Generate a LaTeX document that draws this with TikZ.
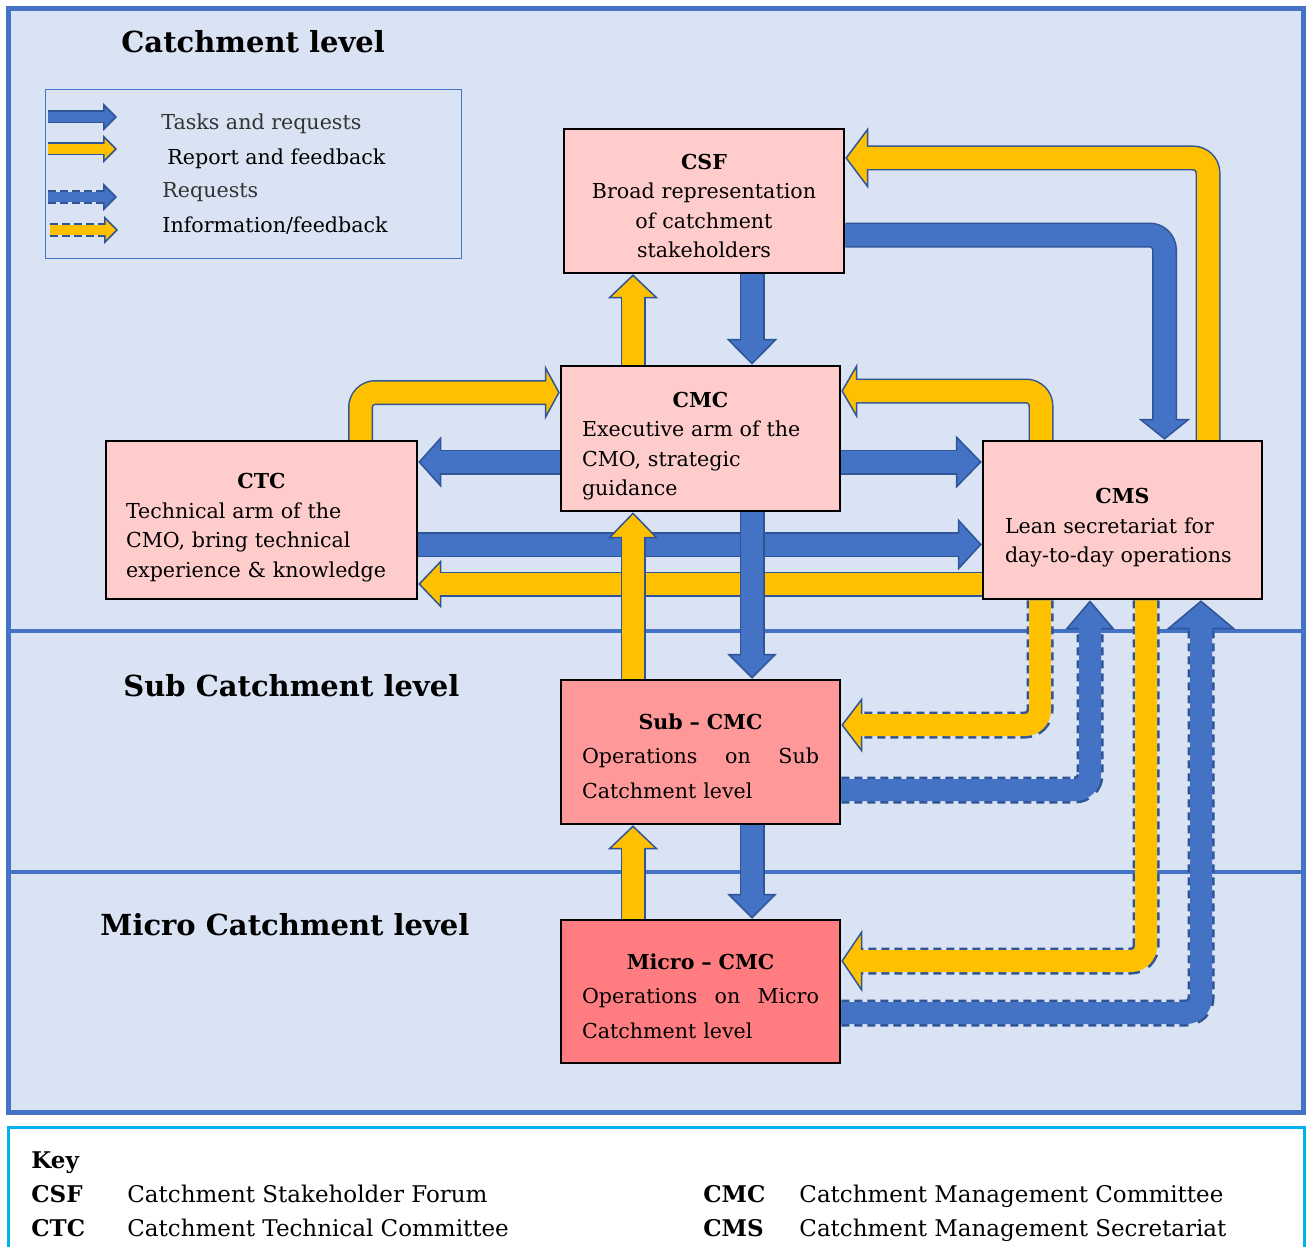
\documentclass[tikz,border=0pt]{standalone}
\usepackage{fontspec}
\setmainfont{DejaVu Serif}
\usetikzlibrary{arrows.meta}

\definecolor{panelbg}{HTML}{DAE3F3}
\definecolor{panelline}{HTML}{4472C4}
\definecolor{arrblue}{HTML}{4472C4}
\definecolor{arryellow}{HTML}{FFC000}
\definecolor{arredge}{HTML}{2F5597}
\definecolor{boxpink}{HTML}{FFCCCC}
\definecolor{boxsub}{HTML}{FF9999}
\definecolor{boxmicro}{HTML}{FF7C80}
\definecolor{keyline}{HTML}{00B0F0}

\newcommand{\boxfont}{\fontsize{10.3}{14.75}\selectfont}
\newcommand{\levelfont}{\fontsize{10.3}{17.25}\selectfont}
\newcommand{\titlefont}{\fontsize{14.5}{17}\selectfont\bfseries}
% invisible strut on the heading line, pushes the box text down
\newcommand{\headgap}[1]{\rule{0pt}{#1}}

\begin{document}
\begin{tikzpicture}[
    x=0.5pt, y=-0.5pt,
    box/.style={draw=black, line width=1.25pt, fill=#1, inner ysep=0pt, font=\boxfont},
    arr/.style n args={4}{draw=arredge, line width=#2+1.5pt, rounded corners=7.5pt,
      -{Triangle[length=#3, width=#4, line width=0.75pt, fill=#1]},
      postaction={draw=#1, solid, -, line width=#2, shorten >=#3-1.2pt}},
    task/.style 2 args={arr={arrblue}{11pt}{#1}{#2}},
    report/.style 2 args={arr={arryellow}{11pt}{#1}{#2}},
    request/.style 2 args={task={#1}{#2}, line width=13.5pt, dash pattern=on 4pt off 2.5pt},
    info/.style 2 args={report={#1}{#2}, line width=13.5pt, dash pattern=on 4pt off 2.5pt},
    level/.style={anchor=base west, inner sep=0pt, font=\titlefont},
    legtext/.style={anchor=base west, inner sep=0pt, font=\boxfont},
    keytext/.style={anchor=base west, inner sep=0pt, font=\fontsize{11.5}{13}\selectfont},
  ]
  \useasboundingbox (0,0) rectangle (1307,1247);

  % ---- panels and level lines ----
  \draw[line width=2.5pt, panelline, fill=panelbg] (8.5,8.5) rectangle (1303.5,1112);
  \draw[line width=2pt, panelline] (8.5,631) -- (1303.5,631);
  \draw[line width=2pt, panelline] (8.5,872) -- (1303.5,872);
  \draw[line width=1.5pt, keyline, fill=white] (8.5,1127) rectangle (1304,1262);

  \node[level] (lvlcat) at (121,53) {Catchment level};
  \node[level] (lvlsub) at (123,696) {Sub Catchment level};
  \node[level] (lvlmic) at (100,935) {Micro Catchment level};

  % ---- legend ----
  \draw[line width=0.5pt, panelline] (45,90) rectangle (461,258);
  \coordinate (lg1) at (48,117);  \coordinate (lg1e) at (117,117);
  \coordinate (lg2) at (48,149);  \coordinate (lg2e) at (117,149);
  \coordinate (lg3) at (48,197);  \coordinate (lg3e) at (117,197);
  \coordinate (lg4) at (50,230);  \coordinate (lg4e) at (118,230);
  \draw[arr={arrblue}{5pt}{7pt}{14pt}] (lg1) -- (lg1e);
  \draw[arr={arryellow}{5pt}{7pt}{14pt}] (lg2) -- (lg2e);
  \draw[arr={arrblue}{5pt}{7pt}{14pt}, line width=7pt, dash pattern=on 4pt off 2pt] (lg3) -- (lg3e);
  \draw[arr={arryellow}{5pt}{7pt}{14pt}, line width=7pt, dash pattern=on 4pt off 2pt] (lg4) -- (lg4e);
  \node[legtext, text=black!80] (lgt1) at (161,130) {Tasks and requests};
  \node[legtext] (lgt2) at (167,164) {Report and feedback};
  \node[legtext, text=black!80] (lgt3) at (162,198) {Requests};
  \node[legtext] (lgt4) at (162,233) {Information/feedback};

  % ---- committees ----
  \node[box=boxpink, minimum width=140pt, minimum height=72pt, inner xsep=5pt,
        text width=130pt, align=center] (csf) at (704,201)
    {\headgap{12.5pt}\textbf{CSF}\\Broad representation\\of catchment\\stakeholders};
  \node[box=boxpink, minimum width=139.5pt, minimum height=72.5pt, inner xsep=10.5pt,
        text width=118.5pt, align=left] (cmc) at (700.5,438.5)
    {{\centering\headgap{15.5pt}\textbf{CMC}\par}Executive arm of the\\CMO, strategic\\guidance};
  \node[box=boxpink, minimum width=155.5pt, minimum height=79pt, inner xsep=10pt,
        text width=135.5pt, align=left] (ctc) at (261.5,520)
    {{\centering\headgap{15.5pt}\textbf{CTC}\par}Technical arm of the\\CMO, bring technical\\experience \& knowledge};
  \node[box=boxpink, minimum width=139.5pt, minimum height=79pt, inner xsep=11pt,
        text width=117.5pt, align=left] (cms) at (1122.5,520)
    {{\centering\headgap{15.5pt}\textbf{CMS}\par}Lean secretariat for\\day-to-day operations};
  \node[box=boxsub, minimum width=139.5pt, minimum height=72pt, inner xsep=10.5pt,
        text width=118.5pt, align=left, font=\levelfont] (sub) at (700.5,752)
    {{\centering\headgap{12pt}\textbf{Sub – CMC}\par}Operations\hfill on\hfill Sub\\Catchment level};
  \node[box=boxmicro, minimum width=139.5pt, minimum height=71.5pt, inner xsep=10.5pt,
        text width=118.5pt, align=left, font=\levelfont] (micro) at (700.5,991.5)
    {{\centering\headgap{12.5pt}\textbf{Micro – CMC}\par}Operations\hfill on\hfill Micro\\Catchment level};

  % ---- bend points ----
  \coordinate (colY) at (633,0);
  \coordinate (colB) at (752,0);
  \coordinate (rowT) at (0,462);
  \coordinate (rowL) at (0,544.5);
  \coordinate (rowM) at (0,584);
  \coordinate (bCTC) at (360.5,392.5);
  \coordinate (bCMS) at (1041,391);
  \coordinate (bCSFb) at (1164.5,235);
  \coordinate (bCSFy) at (1208,158);
  \coordinate (bSUBy) at (1040,725);
  \coordinate (bSUBb) at (1090,790);
  \coordinate (bMICy) at (1146,961);
  \coordinate (bMICb) at (1201,1013);

  % ---- catchment level flows ----
  \draw[task={12pt}{26pt}] (ctc.east |- rowL) -- (cms.west |- rowL);
  \draw[report={11.5pt}{24pt}] (cms.west |- rowM) -- (ctc.east |- rowM);
  \draw[task={11.5pt}{25.5pt}] (cmc.west |- rowT) -- (ctc.east |- rowT);
  \draw[task={13pt}{26.5pt}] (cmc.east |- rowT) -- (cms.west |- rowT);
  \draw[report={7.5pt}{27.5pt}] (bCTC |- ctc.north) |- (cmc.west |- bCTC);
  \draw[report={8pt}{27.5pt}] (bCMS |- cms.north) |- (cmc.east |- bCMS);
  \draw[task={10.5pt}{26pt}] (csf.east |- bCSFb) -| (bCSFb |- cms.north);
  \draw[report={11.5pt}{30.5pt}] (bCSFy |- cms.north) |- (csf.east |- bCSFy);

  % ---- CMS to sub / micro level ----
  \draw[info={10.5pt}{27.5pt}] (bSUBy |- cms.south) |- (sub.east |- bSUBy);
  \draw[request={14.5pt}{24.5pt}] (sub.east |- bSUBb) -| (bSUBb |- cms.south);
  \draw[info={10.5pt}{31pt}] (bMICy |- cms.south) |- (micro.east |- bMICy);
  \draw[request={14.5pt}{34.5pt}] (micro.east |- bMICb) -| (bMICb |- cms.south);

  % ---- vertical chain CSF - CMC - Sub - Micro ----
  \draw[task={13pt}{25.5pt}] (colB |- csf.south) -- (colB |- cmc.north);
  \draw[report={12pt}{25pt}] (colY |- cmc.north) -- (colY |- csf.south);
  \draw[task={12.5pt}{25pt}] (colB |- cmc.south) -- (colB |- sub.north);
  \draw[report={13pt}{25pt}] (colY |- sub.north) -- (colY |- cmc.south);
  \draw[task={12.5pt}{25pt}] (colB |- sub.south) -- (colB |- micro.north);
  \draw[report={12pt}{25pt}] (colY |- micro.north) -- (colY |- sub.south);

  % ---- key ----
  \node[keytext] (keyhd) at (31,1168) {\textbf{Key}};
  \node[keytext] (kcsf) at (31,1202) {\textbf{CSF}};
  \node[keytext] (kcsfd) at (127,1202) {Catchment Stakeholder Forum};
  \node[keytext] (kctc) at (31,1236) {\textbf{CTC}};
  \node[keytext] (kctcd) at (127,1236) {Catchment Technical Committee};
  \node[keytext] (kcmc) at (703,1202) {\textbf{CMC}};
  \node[keytext] (kcmcd) at (799,1202) {Catchment Management Committee};
  \node[keytext] (kcms) at (703,1236) {\textbf{CMS}};
  \node[keytext] (kcmsd) at (799,1236) {Catchment Management Secretariat};

\end{tikzpicture}
\end{document}
